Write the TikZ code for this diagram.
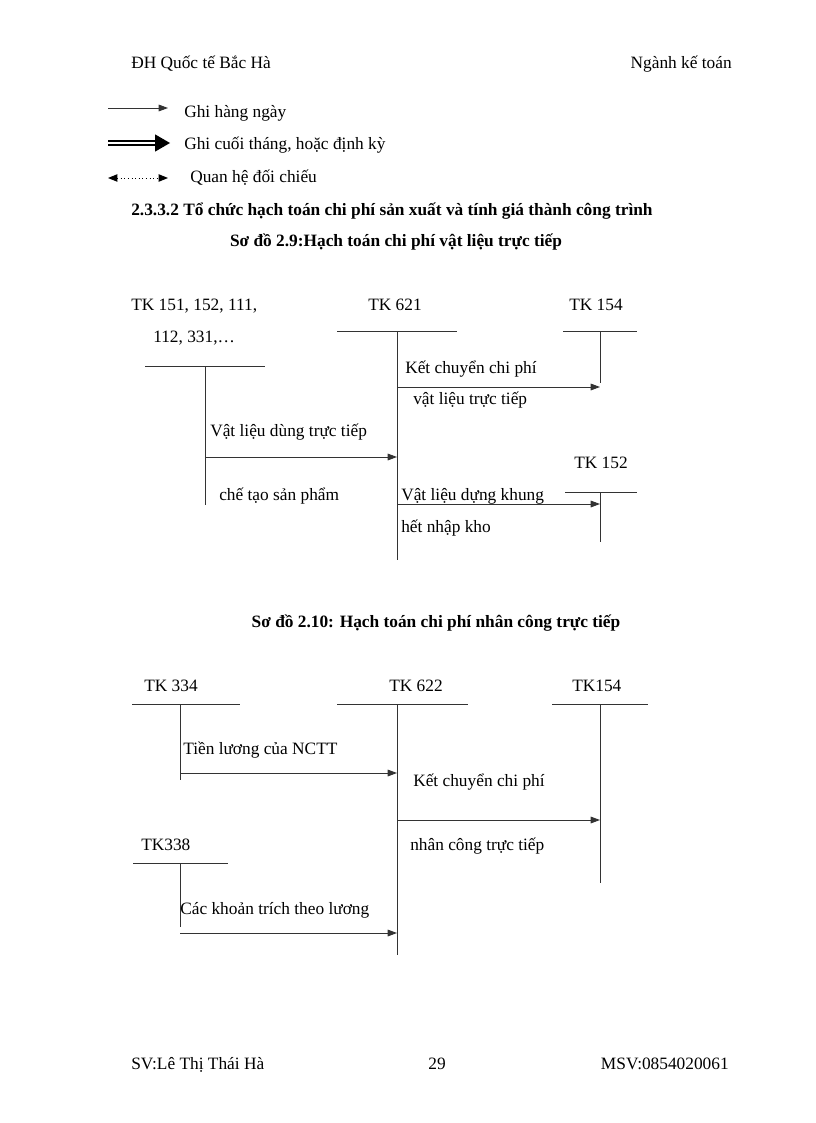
\documentclass[tikz,border=0pt]{standalone}
\usepackage{fontspec}
\setmainfont{Liberation Serif}
\usetikzlibrary{arrows.meta}
\begin{document}
\begin{tikzpicture}[x=0.75pt,y=-0.75pt,
 txt/.style={anchor=base west,inner sep=0pt,yshift=-1.5pt,font=\fontsize{13}{15}\selectfont},
 ttl/.style={anchor=base west,inner sep=0pt,yshift=-1.5pt,font=\fontsize{13}{15}\selectfont\bfseries},
 acc/.style={line width=0.7pt,draw=black!80},
 flow/.style={line width=0.7pt,draw=black!80,-{Triangle[length=7pt,width=5pt]}},
]
\useasboundingbox (0,0) rectangle (816,1123);
\fill[white] (0,0) rectangle (816,1123);
% header / footer
\node[txt] (h1) at (131,67) {ĐH Quốc tế Bắc Hà};
\node[txt,anchor=base east] (h2) at (732,67) {Ngành kế toán};
\node[txt] (f1) at (131,1067) {SV:Lê Thị Thái Hà};
\node[txt,anchor=base] (f2) at (437,1067) {29};
\node[txt,anchor=base east] (f3) at (729,1067) {MSV:0854020061};
% legend
\coordinate (l1a) at (108,108); \coordinate (l1b) at (168,108);
\draw[flow] (l1a) -- (l1b);
\node[txt] (lg1) at (184,116) {Ghi hàng ngày};
\coordinate (l2a) at (108,143); \coordinate (l2b) at (155,143); \coordinate (l2c) at (170,143);
\draw[line width=1.2pt] ([yshift=1.6pt]l2a) -- ([yshift=1.6pt]l2b);
\draw[line width=1.2pt] ([yshift=-1.6pt]l2a) -- ([yshift=-1.6pt]l2b);
\fill ([yshift=6.5pt]l2b) -- (l2c) -- ([yshift=-6.5pt]l2b) -- cycle;
\node[txt] (lg2) at (184,148) {Ghi cuối tháng, hoặc định kỳ};
\coordinate (l3a) at (108,178); \coordinate (l3b) at (168,178);
\draw[line width=0.7pt,dotted,{Triangle[length=7pt,width=5.5pt]}-{Triangle[length=7pt,width=5.5pt]}] (l3a) -- (l3b);
\node[txt] (lg3) at (190,181) {Quan hệ đối chiếu};
% titles
\node[ttl] (t1) at (131,213) {2.3.3.2 Tổ chức hạch toán chi phí sản xuất và tính giá thành công trình};
\node[ttl,anchor=base] (t2) at (396,245) {Sơ đồ 2.9:Hạch toán chi phí vật liệu trực tiếp};
\node[ttl,anchor=base] (t3) at (436,625) {Sơ đồ 2.10: Hạch toán chi phí nhân công trực tiếp};
% ---------- diagram 2.9 ----------
\node[txt] (k151) at (131,308) {TK 151, 152, 111,};
\node[txt] (k151b) at (153,340) {112, 331,…};
\node[txt] (k621) at (368,308) {TK 621};
\node[txt] (k154) at (569,308) {TK 154};
\node[txt] (k152) at (574,466) {TK 152};
% T accounts
\draw[acc] (145,366) -- (265,366);
\coordinate (a151) at (205,366); \coordinate (a151e) at (205,505);
\draw[acc] (a151) -- (a151e);
\draw[acc] (337,331) -- (457,331);
\coordinate (a621) at (397,331); \coordinate (a621e) at (397,560);
\draw[acc] (a621) -- (a621e);
\draw[acc] (563,331) -- (637,331);
\coordinate (a154) at (600,331); \coordinate (a154e) at (600,383);
\draw[acc] (a154) -- (a154e);
\draw[acc] (565,492) -- (637,492);
\coordinate (a152) at (600,492); \coordinate (a152e) at (600,542);
\draw[acc] (a152) -- (a152e);
% flows
\draw[flow] (a621 |- 0,387) -- (a154 |- 0,387);
\node[txt] (n1) at (405,371) {Kết chuyển chi phí};
\node[txt] (n2) at (413,402) {vật liệu trực tiếp};
\draw[flow] (a151 |- 0,457) -- (a621 |- 0,457);
\node[txt] (n3) at (210,434) {Vật liệu dùng trực tiếp};
\node[txt] (n4) at (219,498) {chế tạo sản phẩm};
\draw[flow] (a621 |- 0,504) -- (a152 |- 0,504);
\node[txt] (n5) at (401,498) {Vật liệu dựng khung};
\node[txt] (n6) at (401,530) {hết nhập kho};
% ---------- diagram 2.10 ----------
\node[txt] (k334) at (144,689) {TK 334};
\node[txt] (k622) at (389,689) {TK 622};
\node[txt] (k154b) at (572,689) {TK154};
\node[txt] (k338) at (141,848) {TK338};
\draw[acc] (132,704) -- (240,704);
\coordinate (a334) at (180,704); \coordinate (a334e) at (180,780);
\draw[acc] (a334) -- (a334e);
\draw[acc] (337,704) -- (468,704);
\coordinate (a622) at (397,704); \coordinate (a622e) at (397,955);
\draw[acc] (a622) -- (a622e);
\draw[acc] (552,704) -- (648,704);
\coordinate (b154) at (600,704); \coordinate (b154e) at (600,883);
\draw[acc] (b154) -- (b154e);
\draw[acc] (133,863) -- (228,863);
\coordinate (a338) at (180,863); \coordinate (a338e) at (180,927);
\draw[acc] (a338) -- (a338e);
\draw[flow] (a334 |- 0,773) -- (a622 |- 0,773);
\node[txt] (m1) at (183,752) {Tiền lương của NCTT};
\draw[flow] (a622 |- 0,820) -- (b154 |- 0,820);
\node[txt] (m2) at (413,784) {Kết chuyển chi phí};
\node[txt] (m3) at (410,848) {nhân công trực tiếp};
\draw[flow] (a338 |- 0,933) -- (a622 |- 0,933);
\node[txt] (m4) at (180,912) {Các khoản trích theo lương};
\end{tikzpicture}
\end{document}
